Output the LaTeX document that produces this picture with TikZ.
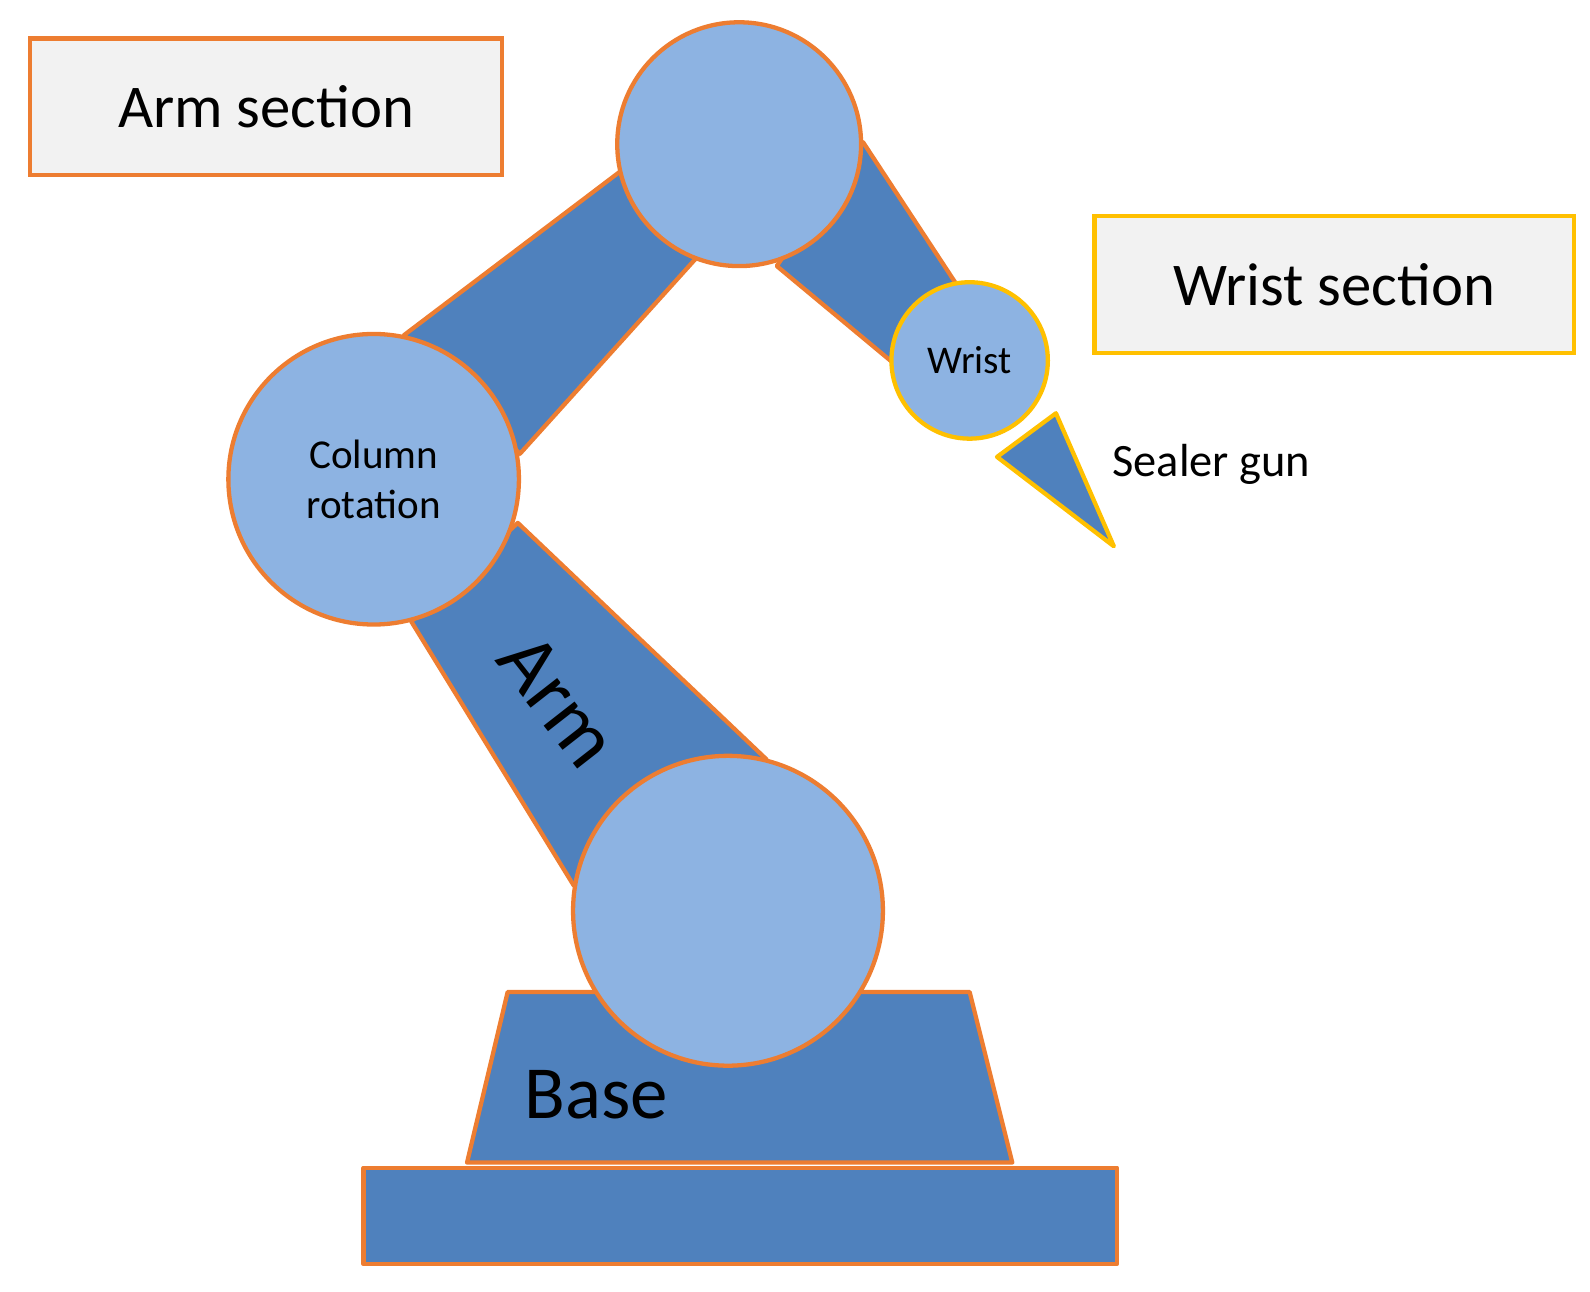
\documentclass[tikz,border=0pt]{standalone}
\usepackage{fontspec}
\setmainfont{Carlito}
\definecolor{linkblue}{HTML}{4F81BD}
\definecolor{jointblue}{HTML}{8DB3E2}
\definecolor{edgeorange}{HTML}{ED7D31}
\definecolor{edgeyellow}{HTML}{FFC000}
\definecolor{boxgray}{HTML}{F2F2F2}
\begin{document}
\begin{tikzpicture}[x=0.01cm, y=-0.01cm,
    link/.style={fill=linkblue, draw=edgeorange, line width=1.2pt, line join=round},
    joint/.style={circle, fill=jointblue, draw=edgeorange, line width=1.2pt, inner sep=0pt, align=center},
    label box/.style={fill=boxgray, line width=1.2pt, inner sep=0pt}]
	% Frame
	\useasboundingbox (0,0) rectangle (1566,1272);

	% Section boxes
	\node[label box, draw=edgeorange, minimum width=4.65cm, minimum height=1.34cm, font=\fontsize{17}{20}\selectfont] (armsec) at (262,105) {Arm section};
	\node[label box, draw=edgeyellow, minimum width=4.72cm, minimum height=1.35cm, font=\fontsize{17}{20}\selectfont] (wristsec) at (1314,280) {Wrist section};

	% Links
	\draw[link] (398,330) -- (612,168) -- (685,255) -- (512,447) -- cycle;
	\draw[link] (850,140) -- (942,280) -- (878,356) -- (765,262) -- cycle;
	\draw[link] (405,612) -- (510,515) -- (755,748) -- (565,872) -- cycle;

	% Base
	\draw[link] (500,977) -- (955,977) -- (997,1145) -- (460,1145) -- cycle;
	\draw[link] (358,1150) rectangle (1100,1245);
	\node[font=\fontsize{21}{24}\selectfont] (base) at (587,1078) {Base};

	% Joints
	\node[joint, minimum size=2.4cm] (shoulder) at (728,142) {};
	\node[joint, minimum size=2.86cm, font=\fontsize{11.5}{14}\selectfont] (column) at (368,472) {Column\\rotation};
	\node[joint, minimum size=3.05cm] (waist) at (717,897) {};
	\node[joint, draw=edgeyellow, minimum size=1.54cm, font=\fontsize{11}{13}\selectfont] (wrist) at (955,355) {Wrist};

	% Sealer gun
	\draw[link, draw=edgeyellow] (982,450) -- (1040,407) -- (1097,538) -- cycle;
	\node[font=\fontsize{13}{15}\selectfont] (gun) at (1193,457) {Sealer gun};

	% Arm label
	\node[rotate=-52, font=\fontsize{23}{28}\selectfont] (armtext) at (550,690) {Arm};
\end{tikzpicture}
\end{document}
